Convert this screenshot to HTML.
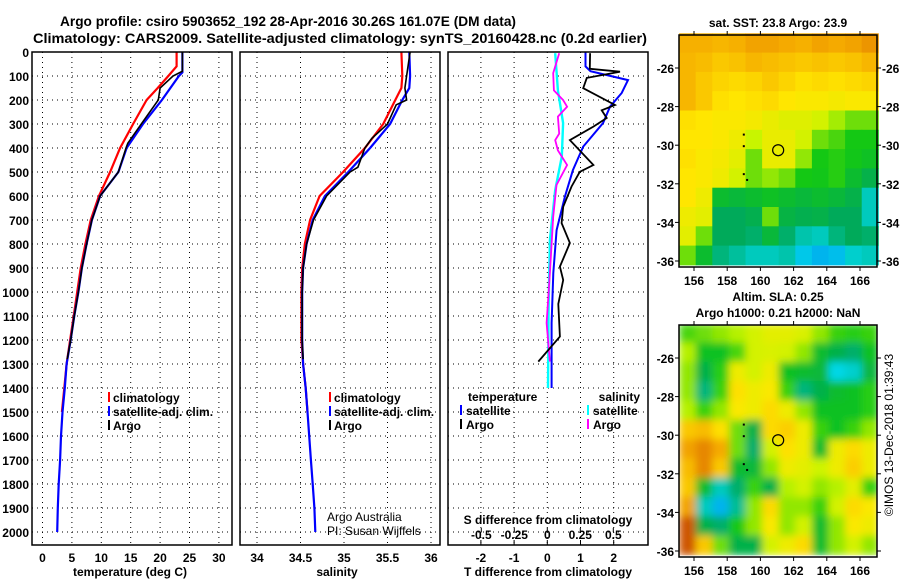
<!DOCTYPE html>
<html><head><meta charset="utf-8"><style>
html,body{margin:0;padding:0;background:#fff;}
svg{display:block;font-family:"Liberation Sans",sans-serif;}
text{font-weight:bold;font-size:12px;fill:#000;}
</style></head><body>
<svg id="fig" width="900" height="580" viewBox="0 0 900 580" xmlns="http://www.w3.org/2000/svg">
<defs>
<filter id="blur" x="0" y="0" width="1" height="1"><feGaussianBlur stdDeviation="4" edgeMode="duplicate"/></filter>
<clipPath id="clipSla"><rect x="679" y="325" width="198" height="232"/></clipPath>
</defs>
<text x="288" y="26" text-anchor="middle" style="font-size:14px" textLength="456" lengthAdjust="spacingAndGlyphs">Argo profile: csiro 5903652_192 28-Apr-2016 30.26S 161.07E (DM data)</text>
<text x="340" y="43" text-anchor="middle" style="font-size:14px" textLength="614" lengthAdjust="spacingAndGlyphs">Climatology: CARS2009. Satellite-adjusted climatology: synTS_20160428.nc (0.2d earlier)</text>
<g id="g"></g>
</svg>
<script>
// ---------- data ----------
const depthTicks=[0,100,200,300,400,500,600,700,800,900,1000,1100,1200,1300,1400,1500,1600,1700,1800,1900,2000];
const tTicks=[0,5,10,15,20,25,30];
const sTicks=[34,34.5,35,35.5,36];
const dTTicks=[-2,-1,0,1,2];
const dSTicks=[-0.5,-0.25,0,0.25,0.5];
const dSTickLabels=["-0.5","-0.25","0","0.25","0.5"];

const tClimDepth=[0,60,100,150,200,300,400,500,600,700,800,900,1000,1100,1200,1300,1400,1500];
const tClimVal=[22.8,22.8,21.4,19.6,17.7,15.4,13.2,11.5,9.6,8.2,7.3,6.5,5.9,5.3,4.7,4.1,3.7,3.3];
const tSatDepth=[0,85,100,200,300,400,500,600,700,800,900,1000,1100,1200,1300,1400,1500,1600,1700,1800,1900,2000];
const tSatVal=[23.8,23.8,23.2,20.3,17.1,14.3,12.9,9.8,8.4,7.5,6.7,6.1,5.4,4.8,4.1,3.8,3.4,3.15,3.0,2.75,2.6,2.5];
const tArgoDepth=[0,80,100,150,200,300,380,400,500,600,700,800,900,1000,1100,1200,1280];
const tArgoVal=[23.8,23.8,22.2,20.0,19.7,16.8,14.5,14.2,12.9,9.8,8.4,7.5,6.7,6.1,5.4,4.8,4.2];

const sClimDepth=[0,100,150,200,300,400,500,600,700,800,900,1000,1200,1300,1400,1500];
const sClimVal=[35.66,35.67,35.66,35.59,35.45,35.24,34.99,34.72,34.61,34.55,34.52,34.51,34.51,34.53,34.56,34.58];
const sSatDepth=[0,100,150,200,300,400,500,600,700,800,900,1000,1200,1300,1400,1500,1600,1700,1800,1900,2000];
const sSatVal=[35.75,35.76,35.75,35.67,35.53,35.30,35.05,34.78,34.64,34.57,34.53,34.52,34.52,34.53,34.56,34.58,34.60,34.62,34.64,34.66,34.67];
const sArgoDepth=[0,100,150,200,220,300,360,400,480,500,600,700,800,900,1000,1200,1280];
const sArgoVal=[35.76,35.72,35.70,35.72,35.60,35.50,35.32,35.24,35.16,35.07,34.80,34.65,34.57,34.53,34.52,34.52,34.53];

const dTSatDepth=[0,60,80,117,171,228,296,394,492,603,742,921,1129,1367,1400];
const dTSatVal=[1.15,1.15,1.3,2.43,2.24,1.89,1.68,1.08,0.77,0.53,0.28,0.18,0.13,0.13,0.13];
const dTArgoDepth=[5,70,82,108,151,221,243,275,311,367,471,499,561,645,713,796,894,950,1050,1186,1290];
const dTArgoVal=[1.29,1.28,2.19,1.19,1.08,2.04,1.64,1.79,1.39,0.68,1.39,0.98,0.73,0.48,0.43,0.68,0.38,0.48,0.33,0.38,-0.27];
const dSArgoDepth=[5,88,160,200,228,269,340,367,410,471,554,686,921,1129,1290];
const dSArgoVal=[0.09,0.045,0.05,0.12,0.15,0.08,0.09,0.06,0.08,0.15,0.07,0.045,0.02,-0.005,0.02];
const dSSatDepth=[5,160,296,436,575,783,1061,1400];
const dSSatVal=[0.06,0.08,0.12,0.11,0.06,0.02,0.01,0.005];

const lonTicks=[156,158,160,162,164,166];
const latTicks=[-26,-28,-30,-32,-34,-36];
const sstGrid=[
[.84,.84,.83,.84,.86,.86,.85,.84,.86,.85,.86,.88],
[.83,.82,.8,.81,.83,.82,.81,.8,.81,.8,.81,.83],
[.83,.8,.78,.77,.78,.8,.78,.76,.77,.76,.77,.78],
[.83,.8,.76,.75,.76,.77,.75,.74,.74,.73,.74,.74],
[.76,.75,.74,.74,.73,.71,.69,.69,.67,.63,.6,.6],
[.75,.75,.74,.72,.65,.71,.71,.67,.6,.58,.55,.55],
[.76,.74,.73,.7,.6,.71,.71,.62,.55,.56,.54,.52],
[.75,.74,.72,.67,.6,.62,.6,.55,.54,.56,.5,.45],
[.75,.72,.5,.48,.5,.52,.5,.48,.5,.48,.45,.3],
[.72,.7,.42,.42,.44,.6,.46,.44,.45,.42,.42,.3],
[.7,.6,.42,.42,.4,.48,.4,.32,.3,.38,.42,.4],
[.6,.5,.38,.34,.3,.3,.32,.22,.18,.2,.28,.3]];
const slaGrid=[
[.58,.6,.62,.64,.67,.7,.7,.68,.62,.57,.56,.57],
[.64,.52,.52,.58,.67,.68,.67,.62,.5,.45,.4,.52],
[.62,.45,.56,.72,.67,.72,.52,.5,.48,.25,.28,.47],
[.62,.38,.57,.76,.72,.74,.57,.38,.45,.5,.52,.56],
[.64,.57,.62,.74,.72,.77,.72,.62,.52,.52,.52,.56],
[.8,.82,.76,.6,.45,.77,.79,.72,.57,.52,.57,.62],
[.86,.9,.85,.6,.4,.67,.76,.72,.5,.72,.77,.72],
[.82,.9,.8,.5,.48,.62,.72,.7,.66,.72,.79,.72],
[.8,.5,.3,.4,.57,.45,.64,.67,.62,.64,.7,.57],
[.86,.3,.18,.35,.62,.77,.62,.62,.57,.67,.77,.74],
[.96,.45,.4,.55,.62,.74,.62,.67,.5,.62,.74,.72],
[.96,.8,.6,.45,.45,.67,.72,.77,.5,.62,.67,.62]];
const floatLon=161.07, floatLat=-30.26;

// ---------- helpers ----------
const NS="http://www.w3.org/2000/svg";
const G=document.getElementById('g');
function mk(tag,attrs,parent){const e=document.createElementNS(NS,tag);for(const k in attrs)e.setAttribute(k,attrs[k]);(parent||G).appendChild(e);return e;}
function txt(x,y,s,anchor,style){const e=mk('text',{x:x,y:y,'text-anchor':anchor||'start'});if(style)e.setAttribute('style',style);e.textContent=s;return e;}
const yD=d=>52+d*0.24;
const PT=55, PB=545;
const xT=v=>42.5+v*5.88;
const xS=v=>257+(v-34)*87;
const xDT=v=>547.3+v*33.2;
const xDS=v=>547.3+v*132;

function frame(x0,x1,name){
  const r=mk('rect',{x:x0,y:PT-3,width:x1-x0,height:PB-PT+3,fill:'none',stroke:'#000','stroke-width':1.5});
  
  
}
function hgrid(x0,x1){
  depthTicks.forEach(d=>{if(d>0)mk('line',{x1:x0,x2:x1,y1:yD(d),y2:yD(d),stroke:'#000','stroke-width':1,'stroke-dasharray':'1 4'});});
}
function vgrid(xs){xs.forEach(x=>mk('line',{x1:x,x2:x,y1:PT-3,y2:PB,stroke:'#000','stroke-width':1,'stroke-dasharray':'1 4'}));}
function line(depths,vals,xf,color,name,w){
  const pts=depths.map((d,i)=>xf(vals[i]).toFixed(1)+','+yD(d).toFixed(1)).join(' ');
  const p=mk('polyline',{points:pts,fill:'none',stroke:color,'stroke-width':w||2,'stroke-linejoin':'miter'});
  
  
}

// ---------- panel 1: temperature ----------
hgrid(32,232); vgrid(tTicks.map(xT));
line(tClimDepth,tClimVal,xT,'#f00','temp-climatology-line',2.2);
line(tSatDepth,tSatVal,xT,'#00f','temp-satellite-line',2.2);
line(tArgoDepth,tArgoVal,xT,'#000','temp-argo-line',1.6);
frame(32,232,'temperature-panel');
depthTicks.forEach(d=>{const t=txt(29,yD(d)+5,String(d),'end');});
tTicks.forEach(v=>{const t=txt(xT(v),562,String(v),'middle');});
{const t=txt(130,576,'temperature (deg C)','middle');}

// ---------- panel 2: salinity ----------
hgrid(240,440); vgrid(sTicks.map(xS));
line(sClimDepth,sClimVal,xS,'#f00','sal-climatology-line',2.2);
line(sSatDepth,sSatVal,xS,'#00f','sal-satellite-line',2.2);
line(sArgoDepth,sArgoVal,xS,'#000','sal-argo-line',1.6);
frame(240,440,'salinity-panel');
sTicks.forEach(v=>{const t=txt(xS(v),562,String(v),'middle');});
{const t=txt(337,576,'salinity','middle');}
{const t=txt(327,521,'Argo Australia','start','font-weight:normal');
 const u=txt(327,535,'PI: Susan Wijffels','start','font-weight:normal');}

// legends panels 1 & 2
function legend(x,y,items,name){
  const g=mk('g',{});
  items.forEach((it,i)=>{
    mk('rect',{x:x,y:y+i*14-10,width:2,height:10,fill:it[1]},g);
    const t=mk('text',{x:x+5,y:y+i*14},g);t.textContent=it[0];
  });
}
legend(108,402,[['climatology','#f00'],['satellite-adj. clim.','#00f'],['Argo','#000']],'temperature-legend');
legend(329,402,[['climatology','#f00'],['satellite-adj. clim.','#00f'],['Argo','#000']],'salinity-legend');

// ---------- panel 3: differences ----------
hgrid(448,648); vgrid(dTTicks.map(xDT));
line(dSSatDepth,dSSatVal,xDS,'#0ff','sal-diff-satellite-line',2.4);
line(dSArgoDepth,dSArgoVal,xDS,'#f0f','sal-diff-argo-line',1.8);
line(dTSatDepth,dTSatVal,xDT,'#00f','temp-diff-satellite-line',2);
line(dTArgoDepth,dTArgoVal,xDT,'#000','temp-diff-argo-line',1.8);
frame(448,648,'difference-panel');
dTTicks.forEach(v=>{const t=txt(xDT(v),562,String(v),'middle');
  mk('line',{x1:xDT(v),x2:xDT(v),y1:PB,y2:PB-5,stroke:'#000'});});
{const t=txt(548,576,'T difference from climatology','middle');}
{const t=txt(548,524,'S difference from climatology','middle');}
dSTicks.forEach((v,i)=>{const t=txt(xDS(v),539,dSTickLabels[i],'middle');
  mk('line',{x1:xDS(v),x2:xDS(v),y1:528,y2:532,stroke:'#000'});});
{const g=mk('g',{});
  let t=mk('text',{x:468,y:401},g);t.textContent='temperature';
  t=mk('text',{x:640,y:401,'text-anchor':'end'},g);t.textContent='salinity';
  [['satellite','#00f',460],['Argo','#000',460],['satellite','#0ff',587],['Argo','#f0f',587]].forEach((it,i)=>{
    const yy=i%2?429:415;
    mk('rect',{x:it[2],y:yy-10,width:2,height:10,fill:it[1]},g);
    const s=mk('text',{x:it[2]+6,y:yy},g);s.textContent=it[0];
  });
}

// ---------- maps ----------
function cmap(v){
  const stops=[[0,[0,90,255]],[0.25,[0,215,230]],[0.42,[0,170,90]],[0.55,[20,200,20]],[0.65,[200,245,0]],[0.75,[255,230,0]],[0.85,[245,170,0]],[0.95,[215,100,0]],[1,[170,20,0]]];
  for(let i=1;i<stops.length;i++){if(v<=stops[i][0]){const a=stops[i-1],b=stops[i];const f=(v-a[0])/(b[0]-a[0]);
    return 'rgb('+a[1].map((c,k)=>Math.round(c+(b[1][k]-c)*f)).join(',')+')';}}
  return 'rgb(170,20,0)';
}
function drawMap(top,grid,name,title,rightLabels,smooth){
  const L=679,R=877,T=top,B=top+232;
  const xL=lon=>694+(lon-156)*16.6;
  const yL=lat=>top+33+(-26-lat)*19.3;
  const g=mk('g',{});
  let cg=g;
  if(smooth){const outer=mk('g',{'clip-path':'url(#clipSla)'},g);cg=mk('g',{filter:'url(#blur)'},outer);}
  const lon0=155.1,lat0=-24.2;
  grid.forEach((row,r)=>row.forEach((v,c)=>{
    const x0=xL(lon0+c),x1=xL(lon0+c+1),y0=yL(lat0-r),y1=yL(lat0-r-1);
    const cell=mk('rect',{x:x0.toFixed(1),y:y0.toFixed(1),width:(x1-x0+0.5).toFixed(1),height:(y1-y0+0.5).toFixed(1),fill:cmap(v)},cg);
    
    
  }));
  mk('rect',{x:L,y:T,width:R-L,height:B-T,fill:'none',stroke:'#000','stroke-width':1.5},g);
  lonTicks.forEach(lo=>{mk('line',{x1:xL(lo),x2:xL(lo),y1:T,y2:T-4,stroke:'#000'},g);mk('line',{x1:xL(lo),x2:xL(lo),y1:B,y2:B+4,stroke:'#000'},g);
    const t=mk('text',{x:xL(lo),y:B+18,'text-anchor':'middle'},g);t.textContent=String(lo);});
  latTicks.forEach(la=>{mk('line',{x1:R,x2:R+4,y1:yL(la),y2:yL(la),stroke:'#000'},g);mk('line',{x1:L,x2:L-4,y1:yL(la),y2:yL(la),stroke:'#000'},g);
    const tl=mk('text',{x:674,y:yL(la)+5,'text-anchor':'end'},g);tl.textContent=String(la);
    if(rightLabels){const t=mk('text',{x:882,y:yL(la)+5},g);t.textContent=String(la);}});
  const c=mk('circle',{cx:xL(floatLon),cy:yL(floatLat),r:5.5,fill:'none',stroke:'#000','stroke-width':1.2},g);
  
  
  [[159,-29.45],[159,-30.05],[159,-31.5],[159.2,-31.8]].forEach(p=>mk('rect',{x:xL(p[0])-1,y:yL(p[1])-1,width:2,height:2,fill:'#000'},g));
  title.forEach((s,i)=>{const t=mk('text',{x:778,y:top-8-(title.length-1-i)*16,'text-anchor':'middle'},g);t.textContent=s;});
}
drawMap(35,sstGrid,'sst-map',['sat. SST: 23.8 Argo: 23.9'],true,false);
drawMap(325,slaGrid,'sla-map',['Altim. SLA: 0.25','Argo h1000: 0.21 h2000: NaN'],false,true);
{const t=txt(0,0,'©IMOS 13-Dec-2018 01:39:43','middle','font-weight:normal');t.setAttribute('transform','translate(893,435) rotate(-90)');
 }
</script>
</body></html>
